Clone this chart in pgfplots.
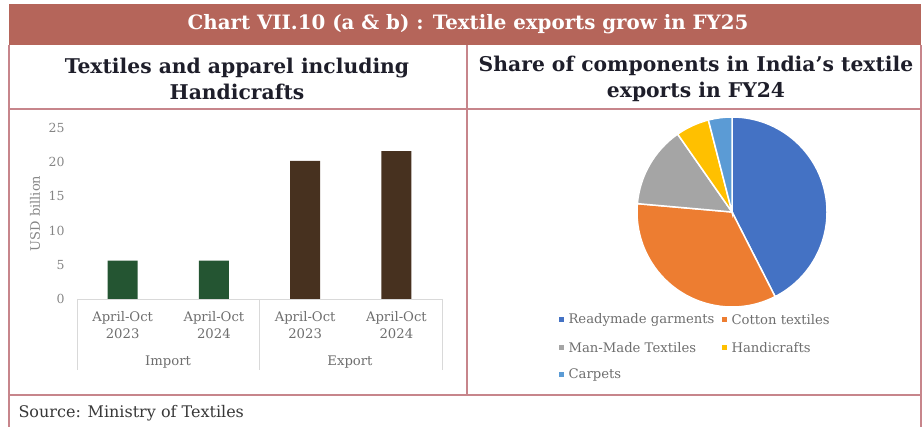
\documentclass[border=0pt]{standalone}
\usepackage{fontspec}
\setmainfont{DejaVu Serif}
\usepackage{pgfplots}
\pgfplotsset{compat=1.18}
\definecolor{band}{HTML}{B5655A}
\definecolor{frame}{HTML}{C7858B}
\definecolor{impgreen}{HTML}{245532}
\definecolor{expbrown}{HTML}{47311F}
\definecolor{pieA}{HTML}{4472C4}
\definecolor{pieB}{HTML}{ED7D31}
\definecolor{pieC}{HTML}{A5A5A5}
\definecolor{pieD}{HTML}{FFC000}
\definecolor{pieE}{HTML}{5B9BD5}
\definecolor{axgray}{HTML}{D9D9D9}
\definecolor{txtgray}{HTML}{6E6E6E}
\definecolor{ticgray}{HTML}{858585}
\definecolor{headtxt}{HTML}{1E1E2A}
% pie shares (percent)
\def\shA{42.5}\def\shB{33.9}\def\shC{13.9}\def\shD{5.7}\def\shE{4.0}
\pgfmathsetmacro\angA{90}
\pgfmathsetmacro\angB{\angA-3.6*\shA}
\pgfmathsetmacro\angC{\angB-3.6*\shB}
\pgfmathsetmacro\angD{\angC-3.6*\shC}
\pgfmathsetmacro\angE{\angD-3.6*\shD}
\pgfmathsetmacro\angF{\angE-3.6*\shE}
\begin{document}
\begin{tikzpicture}
\path[use as bounding box] (0,0) rectangle (924pt,427pt);
% title band
\fill[band] (9pt,382pt) rectangle (921pt,423pt);
\node[text=white,font=\bfseries\fontsize{19.8}{22}\selectfont] at (468pt,402.5pt) {Chart VII.10 (a \& b) : Textile exports grow in FY25};
% frame
\draw[frame, line width=1.2pt] (9pt,0pt) -- (9pt,382pt);
\draw[frame, line width=1.2pt] (921pt,0pt) -- (921pt,382pt);
\draw[frame, line width=1.2pt] (9pt,318pt) -- (921pt,318pt);
\draw[frame, line width=1.2pt] (9pt,32pt) -- (921pt,32pt);
\draw[frame, line width=1.2pt] (467pt,32pt) -- (467pt,382pt);
% subtitles
\node[text=headtxt,align=center,font=\bfseries\fontsize{20.3}{26}\selectfont] at (237pt,348pt) {Textiles and apparel including\\Handicrafts};
\node[text=headtxt,align=center,font=\bfseries\fontsize{20.3}{26}\selectfont] at (696pt,348pt) {Share of components in India’s textile\\exports in FY24};
% source
\node[anchor=west,text=black!78,font=\fontsize{16}{18}\selectfont] at (15pt,14pt) {Source: Ministry of Textiles};

% bar chart
\begin{axis}[
  at={(77pt,128pt)}, anchor=south west,
  scale only axis, width=365pt, height=171pt,
  xmin=-0.5, xmax=3.5, ymin=0, ymax=25,
  ytick={0,5,10,15,20,25},
  xtick={0,1,2,3},
  xticklabels={{April-Oct\\2023},{April-Oct\\2024},{April-Oct\\2023},{April-Oct\\2024}},
  xticklabel style={align=center, text=txtgray, font=\fontsize{13.2}{17}\selectfont, yshift=-9pt},
  yticklabel style={text=ticgray, font=\fontsize{12.5}{14}\selectfont, xshift=-9pt},
  /pgf/number format/assume math mode=true,
  axis line style={draw=none},
  tick style={draw=none},
  ylabel={USD billion},
  ylabel style={at={(axis description cs:-0.115,0.5)}, anchor=center, text=ticgray, font=\fontsize{13}{14}\selectfont},
  clip=false,
]
\addplot[ybar, bar width=30pt, bar shift=0pt, fill=impgreen, draw=none] coordinates {(0,5.6) (1,5.6)};
\addplot[ybar, bar width=30pt, bar shift=0pt, fill=expbrown, draw=none] coordinates {(2,20.2) (3,21.6)};
\end{axis}
% category axis lines
\draw[axgray, line width=0.8pt] (77pt,128pt) -- (442pt,128pt);
\draw[axgray, line width=0.8pt] (77pt,128pt) -- (77pt,57pt);
\draw[axgray, line width=0.8pt] (259.5pt,128pt) -- (259.5pt,57pt);
\draw[axgray, line width=0.8pt] (442pt,128pt) -- (442pt,57pt);
\node[text=txtgray,font=\fontsize{13.2}{15}\selectfont] at (168pt,65pt) {Import};
\node[text=txtgray,font=\fontsize{13.2}{15}\selectfont] at (350pt,65pt) {Export};

% pie chart
\begin{axis}[
  at={(637pt,120pt)}, anchor=south west,
  scale only axis, width=190pt, height=190pt,
  xmin=-1, xmax=1, ymin=-1, ymax=1, hide axis, clip=false,
]
\fill[pieA, draw=white, line width=1.5pt] (axis cs:0,0) -- +(\angA:95pt) arc[start angle=\angA, end angle=\angB, radius=95pt] -- cycle;
\fill[pieB, draw=white, line width=1.5pt] (axis cs:0,0) -- +(\angB:95pt) arc[start angle=\angB, end angle=\angC, radius=95pt] -- cycle;
\fill[pieC, draw=white, line width=1.5pt] (axis cs:0,0) -- +(\angC:95pt) arc[start angle=\angC, end angle=\angD, radius=95pt] -- cycle;
\fill[pieD, draw=white, line width=1.5pt] (axis cs:0,0) -- +(\angD:95pt) arc[start angle=\angD, end angle=\angE, radius=95pt] -- cycle;
\fill[pieE, draw=white, line width=1.5pt] (axis cs:0,0) -- +(\angE:95pt) arc[start angle=\angE, end angle=\angF, radius=95pt] -- cycle;
\end{axis}
% pie legend
\begin{scope}[every node/.style={anchor=west,text=txtgray,font=\fontsize{13.2}{15}\selectfont}]
\fill[pieA] (558.5pt,104.5pt) rectangle +(5pt,5pt);
\node at (565pt,107pt) {Readymade garments};
\fill[pieB] (721.5pt,104.5pt) rectangle +(5pt,5pt);
\node at (728pt,107pt) {Cotton textiles};
\fill[pieC] (558.5pt,76.5pt) rectangle +(5pt,5pt);
\node at (565pt,79pt) {Man-Made Textiles};
\fill[pieD] (721.5pt,76.5pt) rectangle +(5pt,5pt);
\node at (728pt,79pt) {Handicrafts};
\fill[pieE] (558.5pt,49.5pt) rectangle +(5pt,5pt);
\node at (565pt,52pt) {Carpets};
\end{scope}
\end{tikzpicture}
\end{document}
